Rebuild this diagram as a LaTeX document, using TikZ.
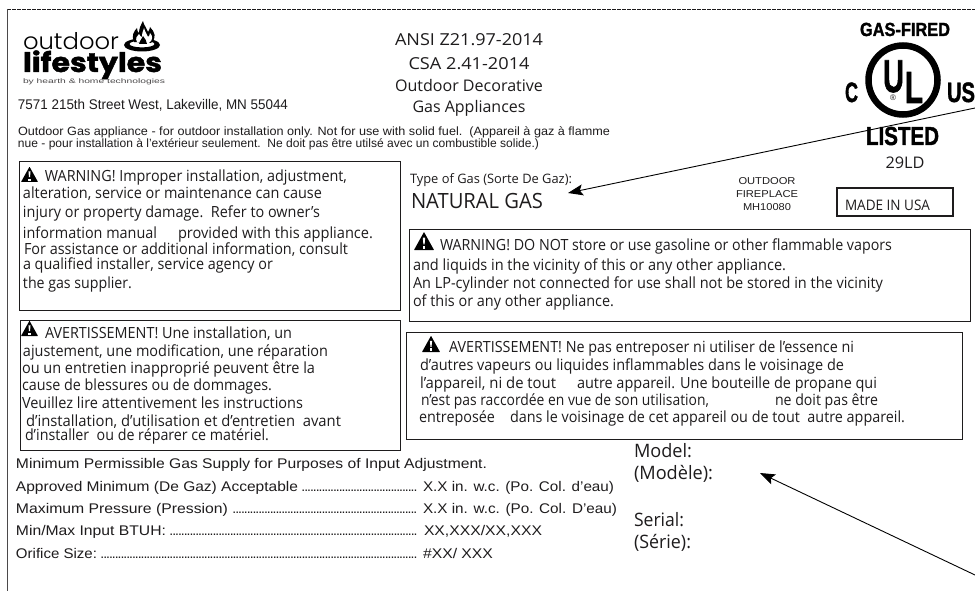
\documentclass[tikz,border=0pt]{standalone}
\usepackage{graphicx}
\usepackage{fontspec}
\usetikzlibrary{arrows.meta}
\setmainfont{Liberation Sans}
\newfontfamily\myr{Open Sans}
\newfontfamily\lib{Liberation Sans}
\newfontfamily\logof{Poppins Light}
\newfontfamily\logoh[FakeBold=1.5]{Poppins Bold}
\newfontfamily\heavy[FakeBold=1.6]{Liberation Sans Bold}
\newsavebox\fitbox
\newcommand\fitw[2]{\sbox\fitbox{#2}\pgfmathsetmacro\fitr{#1/\the\wd\fitbox}\scalebox{\fitr}[1]{\usebox\fitbox}}
\newcommand\fs[1]{\fontsize{#1}{#1}\selectfont}
\definecolor{ink}{HTML}{1E1C1D}
\tikzset{
  txt/.style={inner sep=0pt,outer sep=0pt,anchor=base west,text=ink},
  ctxt/.style={inner sep=0pt,outer sep=0pt,anchor=base,text=ink},
  panel/.style={draw=ink,line width=0.9pt,fill=none,inner sep=0pt},
  callout/.style={draw=black,line width=0.9pt,-{Stealth[length=15pt,width=11pt,inset=3pt]}},
}
\newcommand\ml[6][15.4]{\node[txt] (#2) at (#3,#4) {\myr\fs{#1}\fitw{#5}{#6}};}
\newcommand\al[6][14]{\node[txt] (#2) at (#3,#4) {\lib\fs{#1}\fitw{#5}{#6}};}
\newcommand\warntri[3]{% x left, y base, width
  \begin{scope}[shift={(#1,#2)},x=#3pt,y=#3pt]
   \fill[black,rounded corners=0.4pt] (0,0) -- (0.5,0.9) -- (1,0) -- cycle;
   \fill[white] (0.44,0.62) -- (0.56,0.62) -- (0.53,0.28) -- (0.47,0.28) -- cycle;
   \fill[white] (0.44,0.2) rectangle (0.56,0.07);
  \end{scope}}
\newcommand\dotrow[1]{\hbox to #1pt{\leaders\hbox to 2.87pt{\hss.\hss}\hfill}}
\begin{document}
\begin{tikzpicture}[x=1pt,y=-1pt]
\useasboundingbox (0,0) rectangle (975,591);
\fill[white] (0,0) rectangle (975,591);
\coordinate (tl) at (7,9); \coordinate (tr) at (975,9); \coordinate (bl) at (7,591);
\draw[ink,line width=0.9pt,dash pattern=on 4pt off 1pt] (tl) -- (tr);
\draw[ink!80,line width=1pt] (tl) -- (bl);
% logo
\node[txt,text=black] (lg1) at (23,50) {\logof\fs{23}\fitw{96}{outdoor}};
\node[txt,text=black] (lg2) at (23,72) {\logoh\fs{27}\fitw{139}{lifestyles}};
\node[txt,text=ink!80] (lg3) at (23,84) {\lib\fs{6.6}\fitw{142}{by hearth \& home technologies}};
% flame
\fill[black,even odd rule] (142,45) ellipse [x radius=18,y radius=6.5] (142,44) ellipse [x radius=12.5,y radius=3.4];
\fill[black] (134,42) .. controls (131,36) and (134,31) .. (137,28) .. controls (137,31) and (138,32) .. (139,33)
  .. controls (139,28) and (141,25) .. (143,21) .. controls (144,26) and (147,28) .. (148,32)
  .. controls (149,30) and (150,29) .. (150,27) .. controls (155,32) and (157,38) .. (151,43) -- cycle;
\fill[white] (137,42) .. controls (135,38) and (137,36) .. (139,34) .. controls (140,36) and (141,37) .. (142,37)
  .. controls (142,33) and (143,31) .. (144,28) .. controls (145,32) and (147,34) .. (148,37)
  .. controls (149,36) and (150,35) .. (150,33) .. controls (153,36) and (153,40) .. (149,43) -- cycle;
\fill[black] (139,44) .. controls (140,40) and (142,39) .. (143,36) .. controls (145,39) and (147,41) .. (147,44) -- cycle;
% address & notice
\al{addr}{18}{110}{270}{7571 215th Street West, Lakeville, MN 55044}
\al[12]{not1}{18}{136}{592}{Outdoor Gas appliance - for outdoor installation only. Not for use with solid fuel.\ \ (Appareil à gaz à flamme}
\al[12]{not2}{18}{148}{521}{nue - pour installation à l’extérieur seulement.\ \ Ne doit pas être utilsé avec un combustible solide.)}
% standards
\node[ctxt] (std1) at (469,46) {\myr\fs{16.5}\fitw{148}{ANSI Z21.97-2014}};
\node[ctxt] (std2) at (469,70) {\myr\fs{16.5}\fitw{121}{CSA 2.41-2014}};
\node[ctxt] (std3) at (469,92) {\myr\fs{16}\fitw{148}{Outdoor Decorative}};
\node[ctxt] (std4) at (469,113) {\myr\fs{16}\fitw{113}{Gas Appliances}};
% panels
\draw[panel] (19,161) rectangle (400,310);
\draw[panel] (20,320) rectangle (400,450);
\draw[panel] (409,229) rectangle (970,321);
\draw[panel] (406,332) rectangle (962,439);
% warning 1
\warntri{21}{182}{17}
\ml{w1a}{45}{182}{302}{WARNING! Improper installation, adjustment,}
\ml{w1b}{23}{199}{299}{alteration, service or maintenance can cause}
\ml{w1c}{23}{218}{297}{injury or property damage.\ \ Refer to owner’s}
\ml{w1d}{23}{238}{134}{information manual}
\ml{w1e}{178}{238}{195}{provided with this appliance.}
\ml{w1f}{24}{254}{324}{For assistance or additional information, consult}
\ml{w1g}{23}{269}{250}{a qualified installer, service agency or}
\ml{w1h}{23}{288}{109}{the gas supplier.}
% avertissement 1
\warntri{21}{336}{17}
\ml{a1a}{45}{338}{247}{AVERTISSEMENT! Une installation, un}
\ml{a1b}{23}{356}{305}{ajustement, une modification, une réparation}
\ml{a1c}{22}{373}{293}{ou un entretien inapproprié peuvent être la}
\ml{a1d}{22}{390}{250}{cause de blessures ou de dommages.}
\ml{a1e}{22}{408}{281}{Veuillez lire attentivement les instructions}
\ml{a1f}{26}{426}{315}{d’installation, d’utilisation et d’entretien\ \ avant}
\ml{a1g}{25}{440}{244}{d’installer\ \ ou de réparer ce matériel.}
% gas type
\ml[13]{gt1}{410}{183}{162}{Type of Gas (Sorte De Gaz):}
\ml[21]{gt2}{411}{208}{132}{NATURAL GAS}
\node[ctxt] (of1) at (767,185) {\lib\fs{10}\fitw{57}{OUTDOOR}};
\node[ctxt] (of2) at (767,197) {\lib\fs{10}\fitw{62}{FIREPLACE}};
\node[ctxt] (of3) at (767,210) {\lib\fs{10}\fitw{48}{MH10080}};
\node[draw=ink,line width=1.3pt,inner sep=0pt,minimum width=116pt,minimum height=28pt] (made) at (895,202) {};
\ml[14.5]{madet}{845}{210}{85}{MADE IN USA}
% warning 2
\warntri{414}{250}{20}
\ml{w2a}{440}{250}{452}{WARNING! DO NOT store or use gasoline or other flammable vapors}
\ml{w2b}{413}{270}{373}{and liquids in the vicinity of this or any other appliance.}
\ml{w2c}{413}{288}{470}{An LP-cylinder not connected for use shall not be stored in the vicinity}
\ml{w2d}{413}{306}{201}{of this or any other appliance.}
% avertissement 2
\warntri{422}{352}{18}
\ml{a2a}{449}{352}{405}{AVERTISSEMENT! Ne pas entreposer ni utiliser de l’essence ni}
\ml{a2b}{420}{370}{424}{d’autres vapeurs ou liquides inflammables dans le voisinage de}
\ml{a2c}{420}{388}{136}{l’appareil, ni de tout}
\ml{a2d}{577}{388}{300}{autre appareil. Une bouteille de propane qui}
\ml{a2e}{421}{405}{288}{n’est pas raccordée en vue de son utilisation,}
\ml{a2f}{775}{405}{103}{ne doit pas être}
\ml{a2g}{419}{422}{76}{entreposée}
\ml{a2h}{510}{422}{395}{dans le voisinage de cet appareil ou de tout\ \ autre appareil.}
% ratings
\al{r0}{16}{468}{471}{Minimum Permissible Gas Supply for Purposes of Input Adjustment.}
\al{r1}{16}{491}{282}{Approved Minimum (De Gaz) Acceptable}
\node[txt] (r1d) at (302,491) {\lib\fs{14}\dotrow{116}};
\al{r1v}{423}{491}{191}{X.X in. w.c. (Po. Col. d’eau)}
\al{r2}{16}{513}{212}{Maximum Pressure (Pression)}
\node[txt] (r2d) at (233,513) {\lib\fs{14}\dotrow{185}};
\al{r2v}{423}{513}{194}{X.X in. w.c. (Po. Col. D’eau)}
\al{r3}{16}{535}{150}{Min/Max Input BTUH:}
\node[txt] (r3d) at (170,535) {\lib\fs{14}\dotrow{248}};
\al{r3v}{424}{535}{118}{XX,XXX/XX,XXX}
\al{r4}{16}{558}{81}{Orifice Size:}
\node[txt] (r4d) at (101,558) {\lib\fs{14}\dotrow{317}};
\al{r4v}{423}{558}{70}{\#XX/ XXX}
% model / serial
\ml[18.5]{m1}{634}{457}{58}{Model:}
\ml[18.5]{m2}{634}{479}{79}{(Modèle):}
\ml[18.5]{m3}{634}{526}{50}{Serial:}
\ml[18.5]{m4}{634}{548}{57}{(Série):}
% UL mark
\node[ctxt,text=black] (ul1) at (905,36) {\heavy\fs{19}\fitw{90}{GAS-FIRED}};
\draw[black,line width=6.5pt] (903,80) circle [radius=34.5];
\node[txt,text=black] (ulU) at (883,92) {\heavy\fs{46}\fitw{21}{U}};
\node[txt,text=black] (ulL) at (905,103) {\heavy\fs{45}\fitw{18}{L}};
\node[ctxt,text=ink] (ulR) at (893,100.5) {\lib\fs{8}®};
\node[txt,text=black] (ulC) at (845,102) {\heavy\fs{28}\fitw{13}{C}};
\node[txt,text=black] (ulUS) at (947,102) {\heavy\fs{28}\fitw{28}{US}};
\node[txt,text=black] (ulT) at (866,145) {\heavy\fs{26}\fitw{73}{LISTED}};
\node[ctxt] (ulN) at (905,168) {\myr\fs{16}\fitw{39}{29LD}};
% callouts
\coordinate (c1s) at (975,108); \coordinate (c1t) at (568,193);
\coordinate (c2s) at (975,575); \coordinate (c2t) at (760,473);
\draw[callout] (c1s) -- (c1t);
\draw[callout] (c2s) -- (c2t);
\end{tikzpicture}
\end{document}
